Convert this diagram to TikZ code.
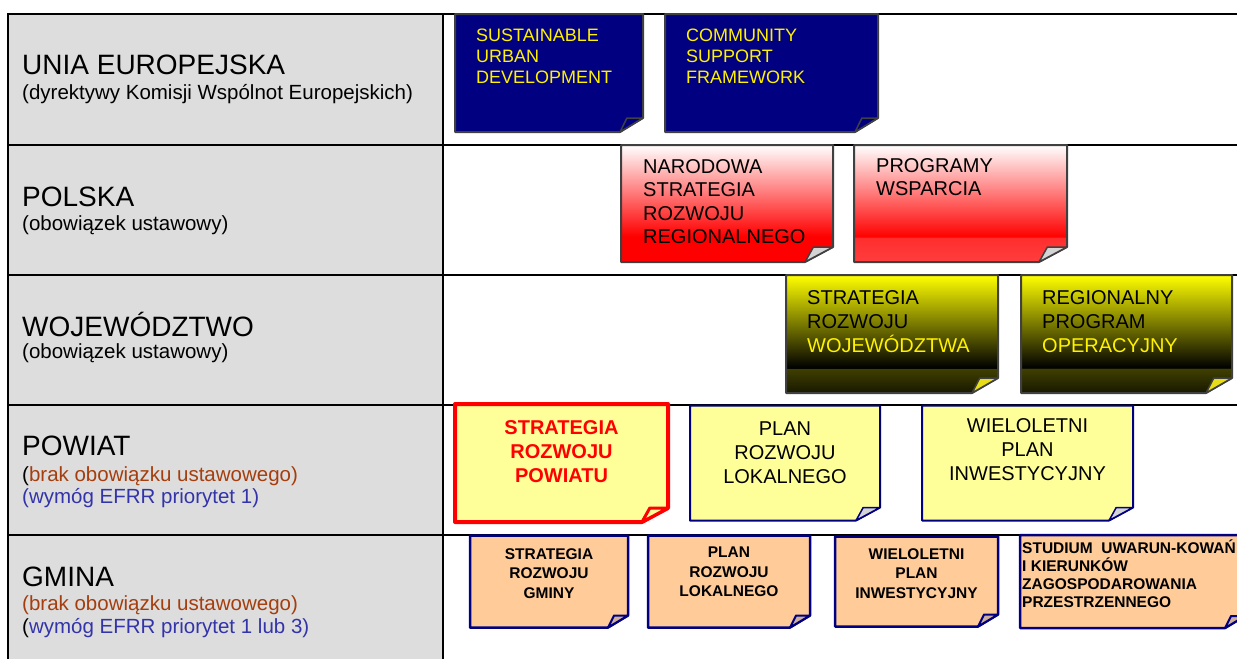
\documentclass[tikz,border=0pt]{standalone}
\usepackage{fontspec}
\setmainfont{Liberation Sans}
\usetikzlibrary{positioning}

\definecolor{tablegrey}{RGB}{221,221,221}
\definecolor{euBlue}{RGB}{0,0,128}
\definecolor{noteGrey}{RGB}{64,64,64}
\definecolor{flapGrey}{RGB}{212,212,212}
\definecolor{navy}{RGB}{0,0,128}
\definecolor{powYellow}{RGB}{255,255,153}
\definecolor{peach}{RGB}{255,204,153}
\definecolor{peachFlap}{RGB}{205,175,155}
\definecolor{lawBrown}{RGB}{165,62,14}
\definecolor{efrrBlue}{RGB}{51,51,170}
\definecolor{wojBandHigh}{RGB}{64,64,0}
\definecolor{wojBandLow}{RGB}{24,24,0}

\pgfdeclareverticalshading{nsrrshade}{100bp}{color(0bp)=(red); color(25bp)=(red); color(36bp)=(red); color(75bp)=(white); color(100bp)=(white)}
\pgfdeclareverticalshading{pwshade}{100bp}{color(0bp)=(red!76!white); color(25bp)=(red!76!white); color(35.5bp)=(red!82!white); color(35.7bp)=(red); color(75bp)=(white); color(100bp)=(white)}
\pgfdeclareverticalshading{wojshade}{100bp}{color(0bp)=(wojBandLow); color(25bp)=(wojBandLow); color(35.4bp)=(wojBandHigh); color(35.6bp)=(black); color(75bp)=(yellow); color(100bp)=(yellow)}

% note with a folded bottom right corner: name, body style, flap style, fold width, fold height
\newcommand\foldnote[5]{%
  \path[#2] (#1.north west) -- (#1.north east) -- ([yshift=#5pt]#1.south east)
    -- ([xshift=-#4pt]#1.south east) -- (#1.south west) -- cycle;
  \path[#3] ([xshift=-#4pt]#1.south east) -- ([xshift=-0.7*#4pt, yshift=#5pt]#1.south east)
    -- ([yshift=#5pt]#1.south east) -- cycle;}

\begin{document}
\begin{tikzpicture}[x=1pt, y=-1pt,
	table line/.style={draw=black, line width=2pt},
	note/.style={rectangle, inner sep=0pt, outer sep=0pt},
	rowtitle/.style={anchor=base west, inner sep=0pt, font=\fontsize{28}{32}\selectfont},
	rowsub/.style={anchor=base west, inner sep=0pt, font=\fontsize{20.5}{24}\selectfont},
	eu text/.style={inner sep=0pt, align=left, text=yellow, font=\fontsize{18}{21}\selectfont},
	pl text/.style={inner sep=0pt, align=left, font=\fontsize{20}{23.5}\selectfont},
	woj text/.style={inner sep=0pt, align=left, font=\fontsize{20}{24}\selectfont},
	pow text/.style={inner sep=0pt, align=center, font=\fontsize{20}{24}\selectfont},
	key text/.style={inner sep=0pt, align=center, text=red, font=\bfseries\fontsize{20}{24}\selectfont},
	gm text/.style={inner sep=0pt, align=center, font=\bfseries\fontsize{15.5}{19.5}\selectfont},
	eu body/.style={fill=euBlue, draw=noteGrey, line width=2pt, line join=round},
	eu flap/.style={fill=euBlue, draw=noteGrey, line width=1.5pt, line join=round},
	nsrr body/.style={shade, shading=nsrrshade, draw=noteGrey, line width=2pt, line join=round},
	pw body/.style={shade, shading=pwshade, draw=noteGrey, line width=2pt, line join=round},
	pl flap/.style={fill=flapGrey, draw=noteGrey, line width=1.5pt, line join=round},
	woj body/.style={shade, shading=wojshade, draw=noteGrey, line width=2pt, line join=round},
	woj flap/.style={fill=yellow!90!black, draw=noteGrey, line width=1.5pt, line join=round},
	key body/.style={fill=powYellow, draw=red, line width=4pt, line join=round},
	key flap/.style={fill=powYellow, draw=red, line width=3pt, line join=round},
	pow body/.style={fill=powYellow, draw=navy, line width=2pt, line join=round},
	pow flap/.style={fill=flapGrey, draw=navy, line width=1.5pt, line join=round},
	gm body/.style={fill=peach, draw=navy, line width=2.5pt, line join=round},
	gm flap/.style={fill=peachFlap, draw=navy, line width=2pt, line join=round}]
	\useasboundingbox (0,0) rectangle (1237,659);

	% table
	\fill[tablegrey] (8,14) rectangle (443,659);
	\draw[table line] (1237,14) -- (8,14) -- (8,659);
	\draw[table line] (443,14) -- (443,659);
	\foreach \y in {145,275,405,535}
		\draw[table line] (8,\y) -- (1237,\y);

	% row labels
	\node[rowtitle] (ue) at (22,74) {UNIA EUROPEJSKA};
	\node[rowsub] (ue-sub) at (22,99) {(dyrektywy Komisji Wspólnot Europejskich)};
	\node[rowtitle] (pl) at (22,206) {POLSKA};
	\node[rowsub] (pl-sub) at (22,230) {(obowiązek ustawowy)};
	\node[rowtitle] (woj) at (22,336) {WOJEWÓDZTWO};
	\node[rowsub] (woj-sub) at (22,358) {(obowiązek ustawowy)};
	\node[rowtitle] (pow) at (22,455) {POWIAT};
	\node[rowsub] (pow-sub) at (22,481) {(\textcolor{lawBrown}{brak obowiązku ustawowego)}};
	\node[rowsub, text=efrrBlue] (pow-efrr) at (22,503) {(wymóg EFRR priorytet 1)};
	\node[rowtitle] (gm) at (22,586) {GMINA};
	\node[rowsub, text=lawBrown] (gm-sub) at (22,610) {(brak obowiązku ustawowego)};
	\node[rowsub] (gm-efrr) at (22,633) {(\textcolor{efrrBlue}{wymóg EFRR priorytet 1 lub 3)}};

	% notes
	\node[note, minimum width=188pt, minimum height=118pt] (sud) at (549,73) {};
	\node[note, minimum width=213pt, minimum height=118pt, right=22pt of sud] (csf) {};
	\node[note, minimum width=212pt, minimum height=117pt] (nsrr) at (727,203.5) {};
	\node[note, minimum width=213pt, minimum height=117pt, right=21pt of nsrr] (pw) {};
	\node[note, minimum width=212pt, minimum height=118pt] (srw) at (892,334) {};
	\node[note, minimum width=211pt, minimum height=118pt, right=23pt of srw] (rpo) {};
	\node[note, minimum width=213pt, minimum height=118pt] (srp) at (561.5,463) {};
	\node[note, minimum width=190pt, minimum height=115pt, right=22pt of srp] (prl) {};
	\node[note, minimum width=211pt, minimum height=115pt, right=42pt of prl] (wpi) {};
	\node[note, minimum width=158pt, minimum height=92pt] (srg) at (549,581.5) {};
	\node[note, minimum width=162pt, minimum height=92pt, right=20pt of srg] (prlg) {};
	\node[note, minimum width=163pt, minimum height=90pt, right=25pt of prlg] (wpig) {};
	\node[note, minimum width=225pt, minimum height=93pt, right=22pt of wpig] (suikzp) {};

	\foreach \n/\bodystyle/\flapstyle/\fx/\fy in {
		sud/eu body/eu flap/23/14, csf/eu body/eu flap/23/14,
		nsrr/nsrr body/pl flap/28/15, pw/pw body/pl flap/28/15,
		srw/woj body/woj flap/26/15, rpo/woj body/woj flap/26/15,
		srp/key body/key flap/26/14, prl/pow body/pow flap/24/13, wpi/pow body/pow flap/24/13,
		srg/gm body/gm flap/20/12, prlg/gm body/gm flap/20/12, wpig/gm body/gm flap/20/12,
		suikzp/gm body/gm flap/20/12}
		\foldnote{\n}{\bodystyle}{\flapstyle}{\fx}{\fy};

	% note texts
	\node[eu text, below right=15pt and 21pt of sud.north west] (sud-txt) {SUSTAINABLE\\URBAN\\DEVELOPMENT};
	\node[eu text, below right=15pt and 21pt of csf.north west] (csf-txt) {COMMUNITY\\SUPPORT\\FRAMEWORK};
	\node[pl text, below right=14pt and 22pt of nsrr.north west] (nsrr-txt) {NARODOWA\\STRATEGIA\\ROZWOJU\\REGIONALNEGO};
	\node[pl text, below right=13pt and 22pt of pw.north west] (pw-txt) {PROGRAMY\\WSPARCIA};
	\node[woj text, below right=15pt and 21pt of srw.north west] (srw-txt) {STRATEGIA\\ROZWOJU\\\textcolor{yellow}{WOJEWÓDZTWA}};
	\node[woj text, below right=15pt and 21pt of rpo.north west] (rpo-txt) {REGIONALNY\\PROGRAM\\\textcolor{yellow}{OPERACYJNY}};
	\node[key text, below=16pt of srp.north] (srp-txt) {STRATEGIA\\ROZWOJU\\POWIATU};
	\node[pow text, below=16pt of prl.north] (prl-txt) {PLAN\\ROZWOJU\\LOKALNEGO};
	\node[pow text, below=13pt of wpi.north] (wpi-txt) {WIELOLETNI\\PLAN\\INWESTYCYJNY};
	\node[gm text, below=12.5pt of srg.north] (srg-txt) {STRATEGIA\\ROZWOJU\\GMINY};
	\node[gm text, below=11.5pt of prlg.north] (prlg-txt) {PLAN\\ROZWOJU\\LOKALNEGO};
	\node[gm text, below=11.5pt of wpig.north] (wpig-txt) {WIELOLETNI\\PLAN\\INWESTYCYJNY};
	\node[gm text, align=left, font=\bfseries\fontsize{15.5}{18}\selectfont, below right=4.5pt and 2pt of suikzp.north west] (suikzp-txt) {STUDIUM\ \ UWARUN-KOWAŃ\\I KIERUNKÓW\\ZAGOSPODAROWANIA\\PRZESTRZENNEGO};
\end{tikzpicture}
\end{document}
